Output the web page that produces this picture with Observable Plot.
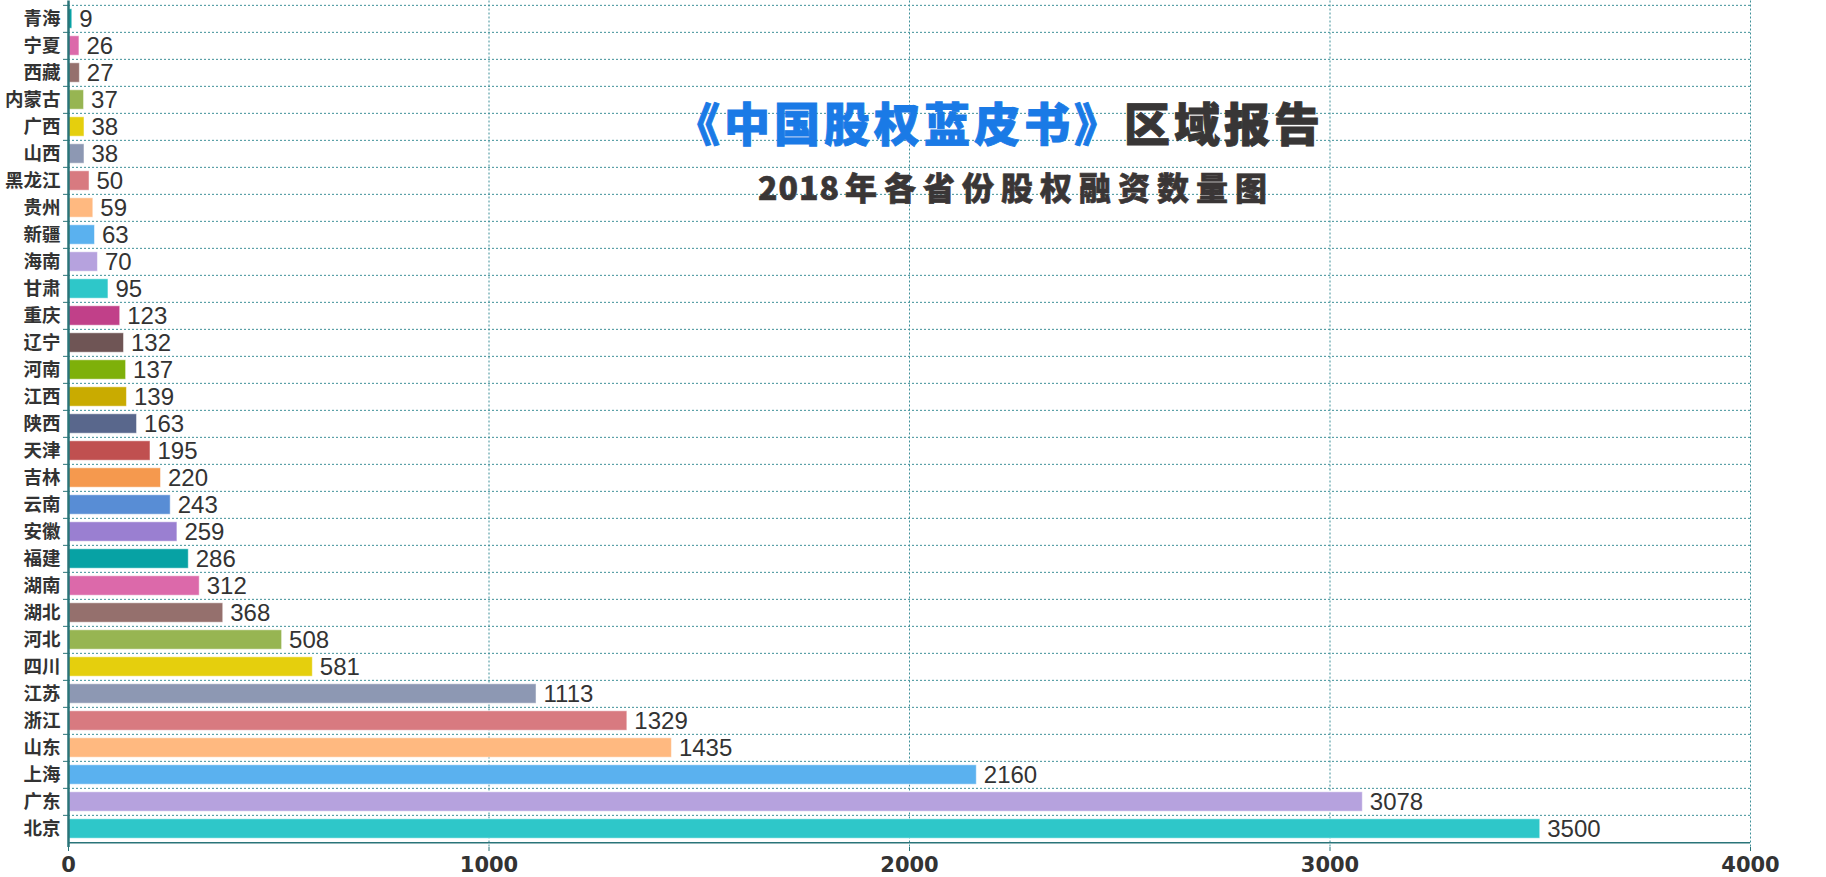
<!DOCTYPE html>
<html><head><meta charset="utf-8">
<script src="https://cdn.jsdelivr.net/npm/d3@7"></script>
<script src="https://cdn.jsdelivr.net/npm/@observablehq/plot@0.6"></script>
<style>
html,body{margin:0;padding:0;background:#fff;}
#wrap{position:relative;width:1826px;height:877px;overflow:hidden;}
#chart svg{display:block;}
.ttl{position:absolute;white-space:nowrap;text-align:center;font-family:"Noto Sans CJK SC","Noto Sans",sans-serif;font-weight:900;}
#title{left:499px;width:1000px;top:98px;font-size:46px;line-height:46px;letter-spacing:4px;color:#383636;-webkit-text-stroke:0.9px #383636;}
#title .blue{color:#1a7ae6;-webkit-text-stroke:0.9px #1a7ae6;}
#subtitle{left:516px;width:1000px;top:170px;font-size:32px;line-height:32px;color:#3a3636;-webkit-text-stroke:0.6px #3a3636;}
#subtitle .num{letter-spacing:1px;margin-right:5px;}
#subtitle .cjk{letter-spacing:7px;}
</style></head><body>
<div id="wrap">
<div id="chart"></div>
<div id="title" class="ttl"><span class="blue">《中国股权蓝皮书》</span>区域报告</div>
<div id="subtitle" class="ttl"><span class="num">2018</span><span class="cjk">年各省份股权融资数量图</span></div>
</div>
<script>
// Data (top to bottom as displayed)
const provinces = ["青海","宁夏","西藏","内蒙古","广西","山西","黑龙江","贵州","新疆","海南","甘肃","重庆","辽宁","河南","江西","陕西","天津","吉林","云南","安徽","福建","湖南","湖北","河北","四川","江苏","浙江","山东","上海","广东","北京"];
const counts = [9,26,27,37,38,38,50,59,63,70,95,123,132,137,139,163,195,220,243,259,286,312,368,508,581,1113,1329,1435,2160,3078,3500];
const xTicks = [0,1000,2000,3000,4000];
const palette = ["#2ec7c9","#b6a2de","#5ab1ef","#ffb980","#d87a80","#8d98b3","#e5cf0d","#97b552","#95706d","#dc69aa","#07a2a4","#9a7fd1","#588dd5","#f5994e","#c05050","#59678c","#c9ab00","#7eb00a","#6f5555","#c14089"];

const data = provinces.map((p, i) => ({province: p, count: counts[i]}));
const bottomUp = provinces.slice().reverse();
const colorRange = bottomUp.map((_, i) => palette[i % palette.length]);

const W = 1826, H = 877, mt = 0.5, mb = 30, ml = 68, mr = 76;
const step = (H - mt - mb) / provinces.length;
const GRID = "#3f9099", AXIS = "#2a7479";

const chart = Plot.plot({
  width: W, height: H,
  marginTop: mt, marginBottom: mb, marginLeft: ml, marginRight: mr,
  style: {background: "transparent", fontFamily: "'Noto Sans CJK SC', 'Noto Sans', sans-serif", overflow: "visible"},
  x: {domain: [0, 4000], axis: null},
  y: {domain: provinces, padding: 0, axis: null},
  color: {domain: bottomUp, range: colorRange},
  marks: [
    Plot.ruleY(provinces, {y: d => d, dy: -step / 2, stroke: GRID, strokeDasharray: "2,2", strokeWidth: 1}),
    Plot.ruleX(xTicks.slice(1), {x: d => d, stroke: GRID, strokeDasharray: "2,2", strokeWidth: 1}),
    Plot.barX(data, {x: "count", y: "province", fill: "province", insetTop: 3.8, insetBottom: 3.8, stroke: "white", strokeOpacity: 0.5, strokeWidth: 1}),
    Plot.text(data, {x: "count", y: "province", text: d => String(d.count), textAnchor: "start", dx: 7, fontSize: 24, fill: "#333", fontFamily: "'Liberation Sans', sans-serif"}),
    Plot.ruleX([0], {stroke: AXIS, strokeWidth: 2.5}),
    Plot.ruleY([provinces[provinces.length - 1]], {y: d => d, dy: step / 2, stroke: AXIS, strokeWidth: 1.5}),
    Plot.axisY({tickSize: 0, tickPadding: 8, fontSize: 18.5, fontWeight: "bold", fill: "#333", label: null}),
    Plot.axisY({tickSize: 5, dy: -step / 2, tickFormat: () => "", stroke: AXIS, label: null}),
    Plot.axisX({ticks: xTicks, tickSize: 4, tickPadding: 6, fontSize: 21, fontWeight: "bold", fill: "#333", stroke: AXIS, fontFamily: "'DejaVu Sans', sans-serif", tickFormat: d => String(d), label: null})
  ]
});
document.getElementById("chart").appendChild(chart);
</script>
</body></html>
